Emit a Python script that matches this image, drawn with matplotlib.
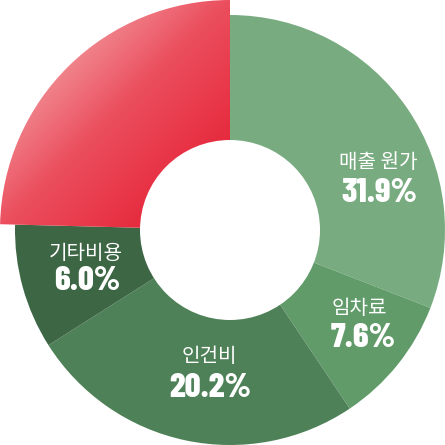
import numpy as np
import matplotlib
matplotlib.use("Agg")
import matplotlib.pyplot as plt
from matplotlib.colors import LinearSegmentedColormap
from matplotlib.patches import Circle

categories = ["매출 원가", "임차료", "인건비", "기타비용", "기타"]
slice_sizes = [30.9, 9.7, 25.4, 9.4, 24.6]
pct_labels = ["31.9%", "7.6%", "20.2%", "6.0%", ""]
slice_colors = ["#78ab80", "#609b69", "#4e8157", "#3d6645", "#e5192d"]

W = 445
fig = plt.figure(figsize=(4.45, 4.45), dpi=100)
ax = fig.add_axes([0, 0, 1, 1])

cx, cy = 230, W - 230
R = 215
R_red = 230
r_hole = 90

wedges, _ = ax.pie(slice_sizes, colors=slice_colors, startangle=90,
                   counterclock=False, radius=R, center=(cx, cy),
                   wedgeprops=dict(width=R - r_hole + 2, linewidth=0))

# highlighted slice: larger radius with diagonal gradient
red = wedges[-1]
red.set_radius(R_red)
red.set_width(R_red - r_hole + 2)
red.set_facecolor("none")

cmap = LinearSegmentedColormap.from_list(
    "redgrad", [(0.0, "#f8b4b8"), (0.22, "#f2959b"), (0.5, "#eb4e5d"), (1.0, "#e3142a")])
yy, xx = np.mgrid[0:W, 0:W]
t = np.clip((xx + yy) / 456.0, 0, 1)
img = cmap(t)
im = ax.imshow(img, extent=(0, W, 0, W), origin="upper", zorder=2, interpolation="bilinear")
im.set_clip_path(red)

# hole
ax.add_patch(Circle((cx, cy), r_hole, facecolor="white", edgecolor="none", zorder=3))

# labels (pixel positions from the top)
name_pos = [(378, 168), (359, 314), (209, 362), (86, 259)]
pct_pos = [(379, 202), (363, 347), (210, 397), (87.5, 290)]
for i in range(4):
    ax.text(name_pos[i][0], W - name_pos[i][1], categories[i], color="white",
            fontsize=14.5, family=["Noto Sans CJK KR", "DejaVu Sans"], weight="light",
            ha="center", va="baseline", zorder=4)
    ax.text(pct_pos[i][0], W - pct_pos[i][1], pct_labels[i], color="white",
            fontsize=25, family=["Barlow Condensed", "Liberation Sans Narrow", "DejaVu Sans"],
            weight=800, ha="center", va="baseline", zorder=4)

ax.set_xlim(0, W)
ax.set_ylim(0, W)
ax.set_aspect("equal")
ax.axis("off")
fig.savefig("out.png", dpi=100, facecolor="white")
